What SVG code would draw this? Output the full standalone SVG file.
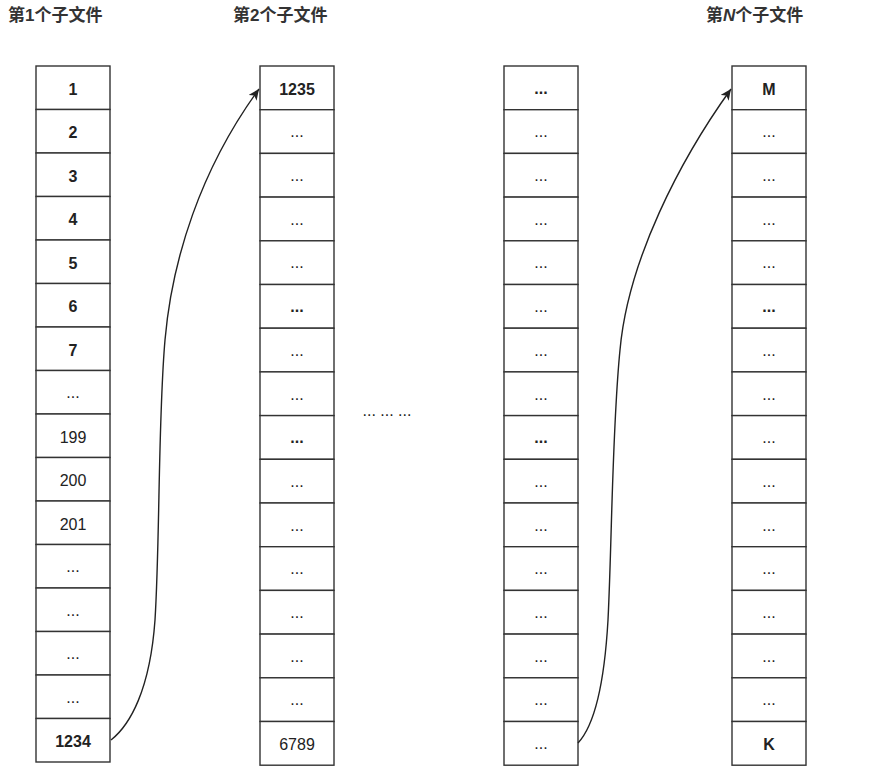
<svg xmlns="http://www.w3.org/2000/svg" width="894" height="774" viewBox="0 0 894 774">
<defs>
<style>
.cell{fill:#fff;stroke:#333;stroke-width:1.4}
.t{font-family:"Liberation Sans",Arial,sans-serif;font-size:16px;fill:#222;text-anchor:middle}
.b{font-weight:bold}
.title{font-family:"Liberation Sans","Noto Sans CJK SC",sans-serif;font-size:17px;font-weight:bold;fill:#333}
.edge{fill:none;stroke:#222;stroke-width:1.4}
</style>
<marker id="arr" markerUnits="userSpaceOnUse" markerWidth="14" markerHeight="12" refX="11" refY="5" orient="auto">
<path d="M0,0 L11,5 L0,10 L3,5 z" fill="#222"/>
</marker>
</defs>
<rect width="894" height="774" fill="#fff"/>
<g id="titles">
<text class="title" x="8" y="21">第1个子文件</text>
<text class="title" x="233" y="21">第2个子文件</text>
<text class="title" x="706" y="21">第<tspan font-style="italic">N</tspan>个子文件</text>
<text class="t" x="387" y="416" style="font-size:16px">... ... ...</text>
</g>
<g id="file1">
<g id="f1r1"><rect class="cell" x="36" y="66" width="74" height="43.5"/><text class="t b" x="73" y="94.5">1</text></g>
<g id="f1r2"><rect class="cell" x="36" y="109.5" width="74" height="43.5"/><text class="t b" x="73" y="138">2</text></g>
<g id="f1r3"><rect class="cell" x="36" y="153" width="74" height="43.5"/><text class="t b" x="73" y="181.5">3</text></g>
<g id="f1r4"><rect class="cell" x="36" y="196.5" width="74" height="43.5"/><text class="t b" x="73" y="225">4</text></g>
<g id="f1r5"><rect class="cell" x="36" y="240" width="74" height="43.5"/><text class="t b" x="73" y="268.5">5</text></g>
<g id="f1r6"><rect class="cell" x="36" y="283.5" width="74" height="43.5"/><text class="t b" x="73" y="312">6</text></g>
<g id="f1r7"><rect class="cell" x="36" y="327" width="74" height="43.5"/><text class="t b" x="73" y="355.5">7</text></g>
<g id="f1r8"><rect class="cell" x="36" y="370.5" width="74" height="43.5"/><text class="t" x="73" y="398">...</text></g>
<g id="f1r9"><rect class="cell" x="36" y="414" width="74" height="43.5"/><text class="t" x="73" y="442.5">199</text></g>
<g id="f1r10"><rect class="cell" x="36" y="457.5" width="74" height="43.5"/><text class="t" x="73" y="486">200</text></g>
<g id="f1r11"><rect class="cell" x="36" y="501" width="74" height="43.5"/><text class="t" x="73" y="529.5">201</text></g>
<g id="f1r12"><rect class="cell" x="36" y="544.5" width="74" height="43.5"/><text class="t" x="73" y="572">...</text></g>
<g id="f1r13"><rect class="cell" x="36" y="588" width="74" height="43.5"/><text class="t" x="73" y="615.5">...</text></g>
<g id="f1r14"><rect class="cell" x="36" y="631.5" width="74" height="43.5"/><text class="t" x="73" y="659">...</text></g>
<g id="f1r15"><rect class="cell" x="36" y="675" width="74" height="43.5"/><text class="t" x="73" y="702.5">...</text></g>
<g id="f1r16"><rect class="cell" x="36" y="718.5" width="74" height="43.5"/><text class="t b" x="73" y="746.5">1234</text></g>
</g>
<g id="file2">
<g id="f2r1"><rect class="cell" x="260" y="66" width="74" height="43.7"/><text class="t b" x="297" y="94.5">1235</text></g>
<g id="f2r2"><rect class="cell" x="260" y="109.7" width="74" height="43.7"/><text class="t" x="297" y="137.3">...</text></g>
<g id="f2r3"><rect class="cell" x="260" y="153.4" width="74" height="43.7"/><text class="t" x="297" y="181">...</text></g>
<g id="f2r4"><rect class="cell" x="260" y="197.1" width="74" height="43.7"/><text class="t" x="297" y="224.7">...</text></g>
<g id="f2r5"><rect class="cell" x="260" y="240.8" width="74" height="43.7"/><text class="t" x="297" y="268.4">...</text></g>
<g id="f2r6"><rect class="cell" x="260" y="284.5" width="74" height="43.7"/><text class="t b" x="297" y="312.1">...</text></g>
<g id="f2r7"><rect class="cell" x="260" y="328.2" width="74" height="43.7"/><text class="t" x="297" y="355.8">...</text></g>
<g id="f2r8"><rect class="cell" x="260" y="371.9" width="74" height="43.7"/><text class="t" x="297" y="399.5">...</text></g>
<g id="f2r9"><rect class="cell" x="260" y="415.6" width="74" height="43.7"/><text class="t b" x="297" y="443.2">...</text></g>
<g id="f2r10"><rect class="cell" x="260" y="459.3" width="74" height="43.7"/><text class="t" x="297" y="486.9">...</text></g>
<g id="f2r11"><rect class="cell" x="260" y="503" width="74" height="43.7"/><text class="t" x="297" y="530.6">...</text></g>
<g id="f2r12"><rect class="cell" x="260" y="546.7" width="74" height="43.7"/><text class="t" x="297" y="574.3">...</text></g>
<g id="f2r13"><rect class="cell" x="260" y="590.4" width="74" height="43.7"/><text class="t" x="297" y="618">...</text></g>
<g id="f2r14"><rect class="cell" x="260" y="634.1" width="74" height="43.7"/><text class="t" x="297" y="661.7">...</text></g>
<g id="f2r15"><rect class="cell" x="260" y="677.8" width="74" height="43.7"/><text class="t" x="297" y="705.4">...</text></g>
<g id="f2r16"><rect class="cell" x="260" y="721.5" width="74" height="43.7"/><text class="t" x="297" y="749.5">6789</text></g>
</g>
<g id="file3">
<g id="f3r1"><rect class="cell" x="504" y="66" width="74" height="43.7"/><text class="t b" x="541" y="93.6">...</text></g>
<g id="f3r2"><rect class="cell" x="504" y="109.7" width="74" height="43.7"/><text class="t" x="541" y="137.3">...</text></g>
<g id="f3r3"><rect class="cell" x="504" y="153.4" width="74" height="43.7"/><text class="t" x="541" y="181">...</text></g>
<g id="f3r4"><rect class="cell" x="504" y="197.1" width="74" height="43.7"/><text class="t" x="541" y="224.7">...</text></g>
<g id="f3r5"><rect class="cell" x="504" y="240.8" width="74" height="43.7"/><text class="t" x="541" y="268.4">...</text></g>
<g id="f3r6"><rect class="cell" x="504" y="284.5" width="74" height="43.7"/><text class="t" x="541" y="312.1">...</text></g>
<g id="f3r7"><rect class="cell" x="504" y="328.2" width="74" height="43.7"/><text class="t" x="541" y="355.8">...</text></g>
<g id="f3r8"><rect class="cell" x="504" y="371.9" width="74" height="43.7"/><text class="t" x="541" y="399.5">...</text></g>
<g id="f3r9"><rect class="cell" x="504" y="415.6" width="74" height="43.7"/><text class="t b" x="541" y="443.2">...</text></g>
<g id="f3r10"><rect class="cell" x="504" y="459.3" width="74" height="43.7"/><text class="t" x="541" y="486.9">...</text></g>
<g id="f3r11"><rect class="cell" x="504" y="503" width="74" height="43.7"/><text class="t" x="541" y="530.6">...</text></g>
<g id="f3r12"><rect class="cell" x="504" y="546.7" width="74" height="43.7"/><text class="t" x="541" y="574.3">...</text></g>
<g id="f3r13"><rect class="cell" x="504" y="590.4" width="74" height="43.7"/><text class="t" x="541" y="618">...</text></g>
<g id="f3r14"><rect class="cell" x="504" y="634.1" width="74" height="43.7"/><text class="t" x="541" y="661.7">...</text></g>
<g id="f3r15"><rect class="cell" x="504" y="677.8" width="74" height="43.7"/><text class="t" x="541" y="705.4">...</text></g>
<g id="f3r16"><rect class="cell" x="504" y="721.5" width="74" height="43.7"/><text class="t" x="541" y="749.1">...</text></g>
</g>
<g id="fileN">
<g id="f4r1"><rect class="cell" x="732" y="66" width="74" height="43.7"/><text class="t b" x="769" y="94.5">M</text></g>
<g id="f4r2"><rect class="cell" x="732" y="109.7" width="74" height="43.7"/><text class="t" x="769" y="137.3">...</text></g>
<g id="f4r3"><rect class="cell" x="732" y="153.4" width="74" height="43.7"/><text class="t" x="769" y="181">...</text></g>
<g id="f4r4"><rect class="cell" x="732" y="197.1" width="74" height="43.7"/><text class="t" x="769" y="224.7">...</text></g>
<g id="f4r5"><rect class="cell" x="732" y="240.8" width="74" height="43.7"/><text class="t" x="769" y="268.4">...</text></g>
<g id="f4r6"><rect class="cell" x="732" y="284.5" width="74" height="43.7"/><text class="t b" x="769" y="312.1">...</text></g>
<g id="f4r7"><rect class="cell" x="732" y="328.2" width="74" height="43.7"/><text class="t" x="769" y="355.8">...</text></g>
<g id="f4r8"><rect class="cell" x="732" y="371.9" width="74" height="43.7"/><text class="t" x="769" y="399.5">...</text></g>
<g id="f4r9"><rect class="cell" x="732" y="415.6" width="74" height="43.7"/><text class="t" x="769" y="443.2">...</text></g>
<g id="f4r10"><rect class="cell" x="732" y="459.3" width="74" height="43.7"/><text class="t" x="769" y="486.9">...</text></g>
<g id="f4r11"><rect class="cell" x="732" y="503" width="74" height="43.7"/><text class="t" x="769" y="530.6">...</text></g>
<g id="f4r12"><rect class="cell" x="732" y="546.7" width="74" height="43.7"/><text class="t" x="769" y="574.3">...</text></g>
<g id="f4r13"><rect class="cell" x="732" y="590.4" width="74" height="43.7"/><text class="t" x="769" y="618">...</text></g>
<g id="f4r14"><rect class="cell" x="732" y="634.1" width="74" height="43.7"/><text class="t" x="769" y="661.7">...</text></g>
<g id="f4r15"><rect class="cell" x="732" y="677.8" width="74" height="43.7"/><text class="t" x="769" y="705.4">...</text></g>
<g id="f4r16"><rect class="cell" x="732" y="721.5" width="74" height="43.7"/><text class="t b" x="769" y="749.5">K</text></g>
</g>
<g id="connectors">
<path class="edge" marker-end="url(#arr)" d="M111,740 C130,725 150,690 155,620 C160,540 158,420 165,340 C172,260 200,170 259,89"/>
<path class="edge" marker-end="url(#arr)" d="M578,743 C592,728 604,690 608,620 C612,540 612,430 620,350 C628,260 680,160 731,89"/>
</g>
</svg>
